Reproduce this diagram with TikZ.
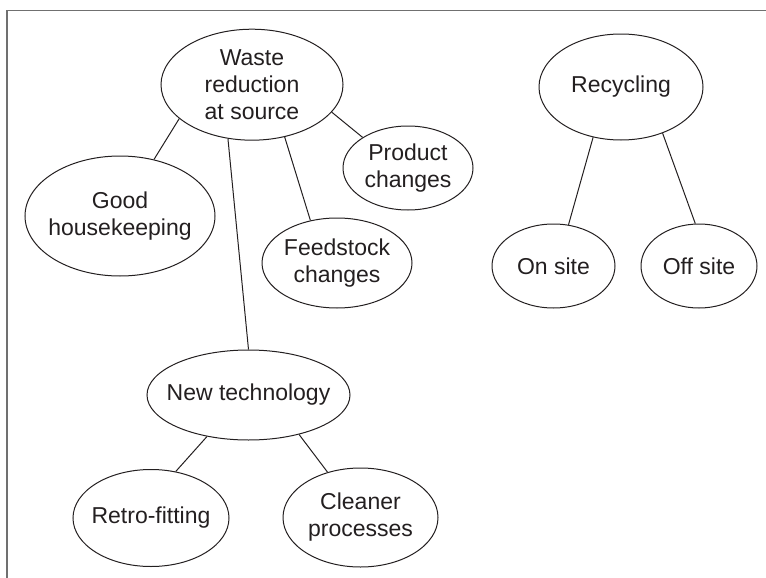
\documentclass[tikz,border=0pt]{standalone}
\usepackage{fontspec}
\setmainfont{Liberation Sans}
\usepackage{tikz}
\definecolor{framegray}{RGB}{112, 112, 112}
\definecolor{inkblack}{RGB}{35, 31, 32}
\usetikzlibrary{shapes.geometric}

\begin{document}
\begin{tikzpicture}[x=0.5pt, y=-0.5pt,
    bubble/.style={draw=inkblack, ellipse, line width=0.5pt, inner xsep=-6pt, inner ysep=-2pt,
          align=center, text=inkblack, font=\fontsize{11.5}{13.5}\selectfont},
    link/.style={draw=inkblack, line width=0.5pt}]
    \useasboundingbox (0,0) rectangle (766,578);
    \draw[framegray, line width=0.75pt] (766,10.5) -- (7,10.5) -- (7,578);

    \node[bubble, minimum width=91pt, minimum height=55.5pt] (waste) at (252,84.7) {Waste\\reduction\\at source};
    \node[bubble, minimum width=95pt, minimum height=60pt] (good) at (120,216) {Good\\housekeeping};
    \node[bubble, minimum width=75pt, minimum height=45pt] (feed) at (337,263) {Feedstock\\changes};
    \node[bubble, minimum width=65pt, minimum height=42pt] (product) at (408,168) {Product\\changes};
    \node[bubble, minimum width=101.5pt, minimum height=45pt] (newtech) at (248.5,395) {New technology};
    \node[bubble, minimum width=78pt, minimum height=48.5pt] (retro) at (151,518) {Retro-fitting};
    \node[bubble, minimum width=77.5pt, minimum height=49.5pt] (cleaner) at (360.5,517.5) {Cleaner\\processes};
    \node[bubble, minimum width=82pt, minimum height=53pt] (recycling) at (621,87) {Recycling};
    \node[bubble, minimum width=61.5pt, minimum height=42pt] (onsite) at (553.5,266) {On site};
    \node[bubble, minimum width=58pt, minimum height=42pt] (offsite) at (699,266) {Off site};

    \draw[link] (waste.205) -- (good.59);
    \draw[link] (waste.246) -- (newtech.90);
    \draw[link] (waste.302) -- (feed.122);
    \draw[link] (waste.341) -- (product.146);
    \draw[link] (newtech.225) -- (retro.62);
    \draw[link] (newtech.322) -- (cleaner.126);
    \draw[link] (recycling.241) -- (onsite.70);
    \draw[link] (recycling.312) -- (offsite.95);
\end{tikzpicture}
\end{document}
